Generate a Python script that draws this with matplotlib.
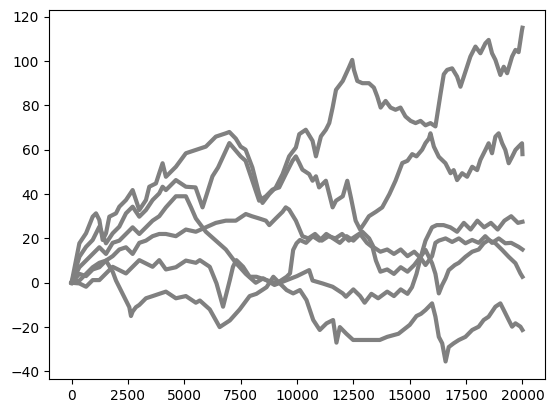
import matplotlib
matplotlib.use("Agg")
import matplotlib.pyplot as plt
import numpy as np

# six random walks, values at a few steps each
a_steps = [0, 347, 643, 938, 1085, 1233, 1380, 1528, 1676, 1971, 2119, 2414, 2709, 2857, 3005, 3300, 3448, 3743,
           3890, 4038, 4185, 4628, 5071, 5514, 5957, 6400, 6843, 7000, 7286, 7500, 7720, 8020, 8320, 8470, 8770,
           9060, 9360, 9650, 9950, 10100, 10390, 10690, 10840, 11060, 11280, 11430, 11580, 11730, 12030, 12300,
           12450, 12525, 12675, 12900, 13190, 13410, 13560, 13710, 13930, 14150, 14370, 14590, 14810, 15040, 15260,
           15480, 15700, 15920, 16140, 16364, 16510, 16660, 16880, 17100, 17250, 17400, 17690, 17915, 18135, 18357,
           18500, 18650, 18800, 19020, 19170, 19320, 19540, 19690, 19830, 19980, 20000]
a_vals = [0, 17.8, 22.3, 29.8, 31.3, 28.3, 19.3, 22.3, 29.8, 31.3, 34.3, 37.3, 41.8, 37.3, 32.8, 37.3, 43.3, 44.8,
          49.4, 53.9, 47.8, 52.3, 58.4, 59.9, 61.4, 65.9, 67.4, 68, 65, 61.4, 60, 52, 40, 36, 40,
          43, 49, 57, 61, 67, 69, 64, 57, 66, 69, 72, 79, 87, 91, 97,
          100.5, 96, 91, 90, 90, 88, 84, 79, 82, 79, 78, 79, 75, 73, 72,
          73, 71, 72, 70.5, 85, 94, 96, 96.7, 93, 88.4, 93, 102, 106.5, 103.5, 108,
          109.5, 103.5, 100.5, 93.7, 97.4, 94.5, 102, 105, 104, 114, 115]

b_steps = [0, 347, 643, 938, 1233, 1528, 1824, 2119, 2414, 2709, 3005, 3300, 3595, 3890, 4038, 4185, 4628, 5071,
           5500, 5810, 6000, 6250, 6500, 7000, 7500, 7720, 8020, 8320, 8620, 8910, 9210, 9500, 9800, 9950, 10100,
           10240, 10540, 10690, 10840, 10980, 11280, 11430, 11580, 11730, 12030, 12230, 12400, 12600, 12800, 13000,
           13190, 13500, 13780, 14100, 14370, 14670, 14900, 15110, 15300, 15550, 15700, 15850, 15920, 16070, 16290,
           16585, 16810, 16950, 17100, 17325, 17545, 17770, 17990, 18135, 18357, 18500, 18650, 18800, 18945, 19100,
           19240, 19390, 19540, 19690, 19830, 19980, 20000]
b_vals = [0, 11.7, 16.2, 19.3, 25.3, 17.8, 22.3, 25.3, 31.3, 34.3, 29.8, 32.8, 37.3, 40.3, 43.3, 41.8, 46.3, 43.3,
          43, 34, 40, 48, 52, 63, 57, 55, 46, 37, 39, 42, 43, 49, 55, 57, 54,
          51, 49, 46, 48, 43, 46, 40, 34, 37, 39, 46, 38, 28, 24, 27,
          30, 32, 34, 40, 46, 54, 55, 58, 57, 60, 63, 65, 67.4, 61.4, 56.8,
          53.9, 49.4, 50.8, 46.3, 49.4, 47.8, 52.3, 50.8, 55.4, 59.9, 62.9, 58.4, 65.9, 67.4, 62.9,
          59.9, 53.9, 56.8, 59.9, 61.4, 62.9, 58]

c_steps = [0, 347, 643, 938, 1233, 1528, 1824, 2119, 2414, 2709, 3005, 3300, 3595, 3890, 4185, 4628, 5071, 5300,
           5514, 5957, 6400, 6843, 7286, 7729, 8171, 8500, 9000, 9500, 10000, 10540, 10690, 11130, 11580, 12030,
           12170, 12500, 12800, 13000, 13300, 13600, 14000, 14300, 14600, 14900, 15100, 15300, 15500, 15700, 15990,
           16200, 16500, 16800, 17100, 17400, 17700, 18000, 18300, 18600, 18900, 19200, 19500, 19800, 20000]
c_vals = [0, 7, 10, 13, 16, 13, 18, 19, 22, 25, 22, 25, 28, 30, 34, 39, 39, 34,
          29, 23, 19, 15, 9, 4, 0, 2, -1, 1, 3, 5.7, 1, -0.3, -1.8, -4.8,
          -6.3, -3, -6, -9, -5, -7, -4, -6, -3, -5, -2, 4, 12, 19, 25,
          26, 26, 25, 23, 27, 24, 28, 25, 27, 24, 28, 30, 27, 27.5]

d_steps = [0, 347, 643, 938, 1233, 1528, 1824, 2119, 2414, 2709, 3005, 3300, 3595, 3890, 4185, 4628, 5071, 5514,
           5957, 6400, 6843, 7286, 7729, 8000, 8320, 8620, 8770, 9060, 9360, 9500, 9650, 9950, 10240, 10500, 10800,
           11100, 11400, 11700, 12000, 12300, 12600, 12900, 13200, 13400, 13700, 14000, 14300, 14600, 14900, 15200,
           15500, 15700, 15990, 16140, 16290, 16590, 16880, 17180, 17470, 17770, 18060, 18350, 18650, 18950, 19240,
           19500, 19830, 20000]
d_vals = [0, 4, 3, 6, 7, 10, 12, 15, 16, 13, 18, 19, 21, 22, 22, 21, 24, 23,
          25, 27, 28, 28, 31, 30, 29, 28, 26, 29, 32, 34, 33, 28, 21, 20, 22,
          19, 21, 20, 22, 19, 21, 23, 20, 16, 14, 15, 13, 15, 12, 14,
          11, 8, 12, 18, 19, 20, 18.4, 20, 17.8, 19.3, 18, 21, 18, 20, 17.8,
          18, 16.2, 15]

e_steps = [0, 347, 643, 938, 1233, 1528, 1824, 2119, 2414, 2709, 3005, 3300, 3595, 3890, 4185, 4628, 5071, 5514,
           5690, 6130, 6430, 6720, 7020, 7160, 7310, 7610, 7900, 8200, 8650, 9090, 9540, 9690, 9830, 9980, 10130,
           10400, 10700, 11000, 11300, 11600, 11900, 12200, 12500, 12800, 13100, 13350, 13500, 13700, 14000, 14300,
           14600, 14900, 15200, 15500, 15700, 15990, 16140, 16290, 16440, 16590, 16730, 17000, 17180, 17470, 17770,
           18060, 18280, 18500, 18800, 19100, 19390, 19690, 19910, 20000]
e_vals = [0, -0.3, -1.8, 1.2, 1.2, 4.2, 7.2, 5.7, 4.2, 7.2, 10.2, 8.7, 7.2, 10.2, 6, 7, 10, 9,
          10.2, 7.2, -0.3, -10.8, 1.2, 7.2, 10.2, 7.2, 2.7, 2.7, 1.2, -0.3, 2.7, 4.2, 14.8, 17.8, 19.3,
          18, 21, 19, 22, 20, 18, 21, 19, 22, 18, 16, 10, 5, 6, 4,
          7, 5, 8, 12, 14.8, 8.8, 4, -4.8, -1, 2, 5.7, 8, 9, 11.7, 14,
          15, 17.8, 19.3, 17.8, 14.8, 11.7, 8.8, 4.2, 2.7]

f_steps = [0, 347, 643, 938, 1233, 1528, 1824, 1971, 2119, 2266, 2414, 2562, 2636, 2709, 2857, 3005, 3300, 3600,
           3890, 4185, 4628, 5071, 5514, 5690, 6130, 6570, 7020, 7460, 7900, 8200, 8650, 8950, 9240, 9540, 9830,
           10130, 10420, 10720, 11010, 11310, 11600, 11750, 11900, 12190, 12490, 13080, 13670, 14000, 14500, 15000,
           15300, 15500, 15700, 15990, 16140, 16290, 16440, 16590, 16730, 16950, 17180, 17470, 17770, 18060, 18280,
           18500, 18800, 19020, 19170, 19390, 19540, 19690, 19910, 20000]
f_vals = [0, 1, 4, 7, 9, 10, 5, 1, -2, -5, -8, -11, -15, -13, -11, -10, -7, -6,
          -5, -4, -7, -6, -9, -8, -12, -20, -17, -12, -6, -5, -2, 2.7, -0.3, -3.3, -4.8,
          -3.3, -7.8, -16.8, -21.3, -18.3, -16.8, -27, -20, -23, -25.8, -25.8, -25.8, -24.4, -23, -19,
          -15, -14, -12.3, -9.3, -15.3, -24.4, -27.3, -35.5, -29, -27.3, -25.8, -24.4, -21.3, -19.8, -16.8,
          -15.3, -10.8, -9.3, -12.3, -16.8, -19.8, -18.3, -19.8, -21.3]

walks = [(a_steps, a_vals), (b_steps, b_vals), (c_steps, c_vals),
         (d_steps, d_vals), (e_steps, e_vals), (f_steps, f_vals)]

fig = plt.figure(figsize=(5.55, 4.13), dpi=100)
ax = fig.add_axes([49 / 555, 34 / 413, 496 / 555, 369 / 413])

for steps, vals in walks:
    ax.plot(steps, vals, color="gray", linewidth=3.0, solid_joinstyle="round")

ax.set_xlim(-1000, 21000)
ax.set_ylim(-43.4, 123.0)
ax.set_xticks(np.arange(0, 20001, 2500))
ax.set_yticks(np.arange(-40, 121, 20))

fig.savefig("out.png", dpi=100)
